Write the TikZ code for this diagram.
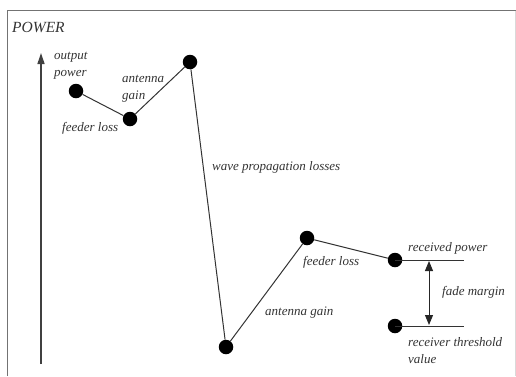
\documentclass[tikz,border=0pt]{standalone}
\usepackage{fontspec}
\setmainfont{Liberation Serif}
\usetikzlibrary{arrows.meta}
\begin{document}
\begin{tikzpicture}[x=1pt,y=-1pt,
  dot/.style={circle,fill=black,inner sep=0pt,minimum size=14.5pt},
  lbl/.style={font=\itshape\fontsize{13}{17}\selectfont,text=black!80,inner sep=0pt},
  conn/.style={line width=1pt,black!80},
  frm/.style={line width=1pt,black!55}]
\useasboundingbox (0,0) rectangle (516,376);
\draw[frm] (7.5,376) -- (7.5,10.5) -- (516,10.5);
\draw[black!15,line width=0.8pt] (515,10.5) -- (515,376);
\node[lbl,font=\itshape\fontsize{15.5}{18}\selectfont,anchor=west] (pw) at (12,27) {POWER};
\coordinate (ab) at (41,364);
\coordinate (at) at (41,53);
\draw[line width=1.3pt,black!75,-{Triangle[length=11pt,width=7pt]}] (ab) -- (at);
\node[dot] (d1) at (76,91) {};
\node[dot] (d2) at (130,119) {};
\node[dot] (d3) at (190,62) {};
\node[dot] (d4) at (226,347) {};
\node[dot] (d5) at (307,238) {};
\node[dot] (d6) at (395,260) {};
\node[dot] (d7) at (395,326) {};
\draw[conn] (d1) -- (d2) -- (d3) -- (d4) -- (d5) -- (d6);
\coordinate (e6) at (464,260);
\coordinate (e7) at (464,326);
\draw[conn] (d6.center) -- (e6);
\draw[conn] (d7.center) -- (e7);
\coordinate (fa) at (429,261);
\coordinate (fb) at (429,325);
\draw[line width=1pt,black!85,{Triangle[length=10pt,width=8pt]}-{Triangle[length=10pt,width=8pt]}] (fa) -- (fb);
\node[lbl,align=left,anchor=west] (l1) at (54,66) {output\\power};
\node[lbl,align=left,anchor=west] (l2) at (122,89) {antenna\\gain};
\node[lbl,anchor=west] (l3) at (62,128) {feeder loss};
\node[lbl,anchor=west] (l4) at (212,167) {wave propagation losses};
\node[lbl,anchor=west] (l5) at (265,313) {antenna gain};
\node[lbl,anchor=west] (l6) at (303,262) {feeder loss};
\node[lbl,anchor=west] (l7) at (408,248) {received power};
\node[lbl,anchor=west] (l8) at (442,292) {fade margin};
\node[lbl,align=left,anchor=west] (l9) at (408,351) {receiver threshold\\value};
\end{tikzpicture}
\end{document}
